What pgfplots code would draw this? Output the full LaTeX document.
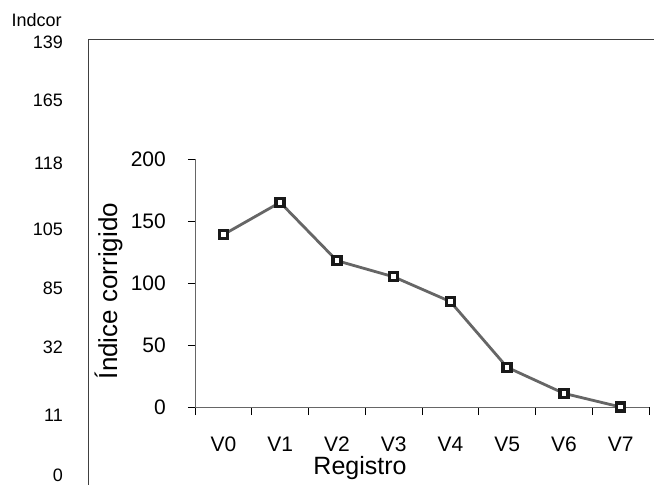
\documentclass[border=0pt]{standalone}
\usepackage{pgfplots}
\pgfplotsset{compat=1.18}
\usepackage{fontspec}
\setmainfont{Liberation Sans}

\definecolor{linegray}{HTML}{666666}

\begin{document}
\begin{tikzpicture}[x=1pt,y=1pt]
\useasboundingbox (0,0) rectangle (654,485);

% outer frame with its own column of labels
\begin{axis}[
  at={(88pt,0pt)}, anchor=south west, scale only axis,
  width=566pt, height=446pt,
  xmin=0, xmax=1, ymin=0, ymax=446,
  axis x line*=top, axis y line*=left,
  axis line style={-, black!75, line width=0.8pt},
  xtick=\empty,
  ytick={443,385,322,256,197,138,70,10},
  yticklabels={139,165,118,105,85,32,11,0},
  major tick length=0pt,
  yticklabel style={font=\fontsize{18}{20}\selectfont, inner sep=0pt, xshift=-25pt, anchor=east},
]
\end{axis}
\node[font=\fontsize{18}{20}\selectfont] at (36.7,465) {Indcor};

% inner chart
\begin{axis}[
  at={(195pt,78pt)}, anchor=south west, scale only axis,
  width=454pt, height=248pt,
  xmin=-0.5, xmax=7.5, ymin=0, ymax=200,
  axis lines=left,
  axis line style={-, black!60, line width=0.8pt},
  tick style={black, line width=0.8pt},
  tick align=outside,
  xtick={0,...,7},
  xticklabels={V0,V1,V2,V3,V4,V5,V6,V7},
  minor xtick={-0.5,0.5,...,7.5},
  major x tick style={draw=none},
  ytick={0,50,100,150,200},
  major tick length=7pt,
  minor tick length=8pt,
  /pgf/number format/assume math mode=true,
  xticklabel style={font=\fontsize{21}{23}\selectfont, inner sep=0pt, yshift=-37pt, anchor=base},
  yticklabel style={font=\fontsize{21}{23}\selectfont, inner sep=0pt, xshift=-22pt, anchor=east},
  clip=false,
]
\addplot[color=linegray, line width=2.8pt,
  mark=square*, mark size=4pt,
  mark options={fill=white, draw=black!90, line width=3.3pt, solid}]
  coordinates {(0,139) (1,165) (2,118) (3,105) (4,85) (5,32) (6,11) (7,0)};
\end{axis}

\node[font=\fontsize{25}{28}\selectfont, anchor=base] at (360,10) {Registro};
\node[font=\fontsize{26}{28}\selectfont, rotate=90] at (108.5,194) {Índice corrigido};
\end{tikzpicture}
\end{document}
